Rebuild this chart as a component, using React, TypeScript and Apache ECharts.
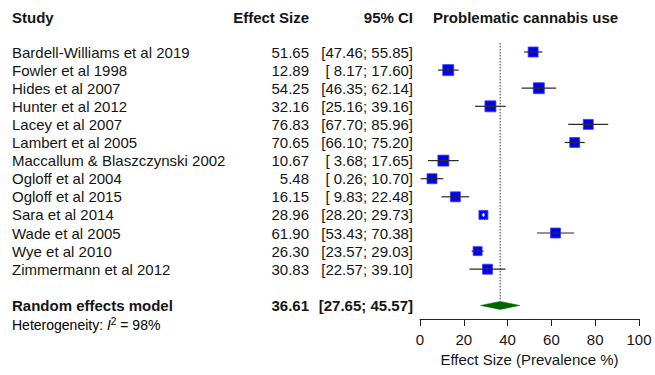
import React, { useEffect, useRef } from "react";
import * as echarts from "echarts";

const studies = [
  "Bardell-Williams et al 2019",
  "Fowler et al 1998",
  "Hides et al 2007",
  "Hunter et al 2012",
  "Lacey et al 2007",
  "Lambert et al 2005",
  "Maccallum & Blaszczynski 2002",
  "Ogloff et al 2004",
  "Ogloff et al 2015",
  "Sara et al 2014",
  "Wade et al 2005",
  "Wye et al 2010",
  "Zimmermann et al 2012",
];
const effects = [51.65, 12.89, 54.25, 32.16, 76.83, 70.65, 10.67, 5.48, 16.15, 28.96, 61.9, 26.3, 30.83];
const lowers = [47.46, 8.17, 46.35, 25.16, 67.7, 66.1, 3.68, 0.26, 9.83, 28.2, 53.43, 23.57, 22.57];
const uppers = [55.85, 17.6, 62.14, 39.16, 85.96, 75.2, 17.65, 10.7, 22.48, 29.73, 70.38, 29.03, 39.1];
const weights = [10, 11, 11, 11, 10, 10, 11, 10, 10, 9, 10, 9, 10];
const summaryLabel = "Random effects model";
const summary = { est: 36.61, lo: 27.65, hi: 45.57 };
const heterogeneityI2 = "98%";
const xTicks = [0, 20, 40, 60, 80, 100];
const headers = { study: "Study", effect: "Effect Size", ci: "95% CI", title: "Problematic cannabis use" };
const axisTitle = "Effect Size (Prevalence %)";

const FONT = "Liberation Sans";
const TXT = "#151515";
const X_STUDY = 12;
const X_EFF = 309;
const X_CI = 413;

const fmtCI = (lo: number, hi: number) => {
  const l = lo.toFixed(2);
  const h = hi.toFixed(2);
  return "[" + (l.length < 5 ? " " + l : l) + "; " + (h.length < 5 ? " " + h : h) + "]";
};

const txt = (x: number, y: number, text: string, align: string, bold = false, size = 15) => ({
  type: "text",
  x,
  y,
  style: {
    text,
    fontSize: size,
    fontFamily: FONT,
    fontWeight: bold ? "bold" : "normal",
    fill: TXT,
    align,
    verticalAlign: "middle",
  },
});

export default function App() {
  const ref = useRef<HTMLDivElement>(null);
  useEffect(() => {
    if (!ref.current) return;
    const chart = echarts.init(ref.current, undefined, { renderer: "svg" });
    const rows = studies.map((s, i) => [i, effects[i], lowers[i], uppers[i], weights[i], i]);
    const summaryRow = studies.length + 1;

    const studyRender = (params: any, api: any) => {
      const row = api.value(0);
      const est = api.value(1);
      const lo = api.value(2);
      const hi = api.value(3);
      const size = api.value(4);
      const idx = api.value(5);
      const pe = api.coord([est, row]);
      const pl = api.coord([lo, row]);
      const ph = api.coord([hi, row]);
      const y = pe[1];
      const half = size / 2;
      const inside = ph[0] - pl[0] <= size;
      return {
        type: "group",
        children: [
          txt(X_STUDY, y, studies[idx], "left"),
          txt(X_EFF, y, est.toFixed(2), "right"),
          txt(X_CI, y, fmtCI(lo, hi), "right"),
          { type: "rect", shape: { x: pe[0] - half, y: y - half, width: size, height: size }, style: { fill: "#0000f0", stroke: "#4040ff", lineWidth: 0.8 } },
          { type: "line", shape: { x1: pl[0], y1: y, x2: ph[0], y2: y }, style: { stroke: inside ? "#ffffff" : "#2a2a2a", lineWidth: 1.2 } },
          { type: "line", shape: { x1: pe[0], y1: y - 2, x2: pe[0], y2: y + 2 }, style: { stroke: inside ? "#ffffff" : "#2a2a2a", lineWidth: 1 } },
        ],
      };
    };

    const summaryRender = (params: any, api: any) => {
      const row = api.value(0);
      const est = api.value(1);
      const lo = api.value(2);
      const hi = api.value(3);
      const pe = api.coord([est, row]);
      const pl = api.coord([lo, row]);
      const ph = api.coord([hi, row]);
      const top = api.coord([est, -0.5]);
      const y = pe[1];
      return {
        type: "group",
        children: [
          { type: "line", shape: { x1: pe[0], y1: top[1], x2: pe[0], y2: y - 4 }, style: { stroke: "#333333", lineWidth: 1, lineDash: [1.5, 1.5] } },
          { type: "polygon", shape: { points: [[pl[0], y], [pe[0], y - 4], [ph[0], y], [pe[0], y + 4]] }, style: { fill: "#006400", stroke: "#006400", lineWidth: 0.5 } },
          txt(X_STUDY, y, summaryLabel, "left", true),
          txt(X_EFF, y, est.toFixed(2), "right", true),
          txt(X_CI, y, fmtCI(lo, hi), "right", true),
        ],
      };
    };

    chart.setOption({
      animation: false,
      backgroundColor: "#ffffff",
      textStyle: { fontFamily: FONT },
      grid: { left: 420, right: 16, top: 33.9, bottom: 56 },
      xAxis: {
        type: "value",
        position: "bottom",
        min: 0,
        max: 100,
        interval: 20,
        splitLine: { show: false },
        axisLine: { show: true, onZero: false, lineStyle: { color: "#222", width: 1 } },
        axisTick: { show: true, length: 7, lineStyle: { color: "#222" } },
        axisLabel: { fontSize: 15, color: TXT, margin: 13, fontFamily: FONT, formatter: (v: number) => (xTicks.includes(v) ? String(v) : "") },
        name: axisTitle,
        nameLocation: "middle",
        nameGap: 31,
        nameTextStyle: { fontSize: 15, color: TXT, fontFamily: FONT },
      },
      yAxis: { type: "value", min: -1, max: 14.75, inverse: true, show: false },
      graphic: [
        txt(X_STUDY, 17, headers.study, "left", true),
        txt(X_EFF, 17, headers.effect, "right", true),
        txt(X_CI, 17, headers.ci, "right", true),
        txt(433, 17, headers.title, "left", true),
        {
          type: "text",
          x: X_STUDY,
          y: 325,
          style: {
            text: "{a|Heterogeneity: }{i|I}{s|2}{a| = " + heterogeneityI2 + "}",
            verticalAlign: "middle",
            rich: {
              a: { fontSize: 14, fontFamily: FONT, color: TXT },
              i: { fontSize: 14, fontFamily: FONT, color: TXT, fontStyle: "italic" },
              s: { fontSize: 10, fontFamily: FONT, color: TXT, verticalAlign: "top", padding: [0, 0, 7, 0] },
            },
          },
        },
      ],
      series: [
        { type: "custom", renderItem: studyRender, data: rows, clip: false, encode: { x: [1, 2, 3], y: 0 } },
        { type: "custom", renderItem: summaryRender, data: [[summaryRow, summary.est, summary.lo, summary.hi]], clip: false, encode: { x: [1, 2, 3], y: 0 } },
      ],
    });
    return () => chart.dispose();
  }, []);
  return <div ref={ref} style={{ position: "absolute", left: 0, top: 0, width: 655, height: 375 }} />;
}
